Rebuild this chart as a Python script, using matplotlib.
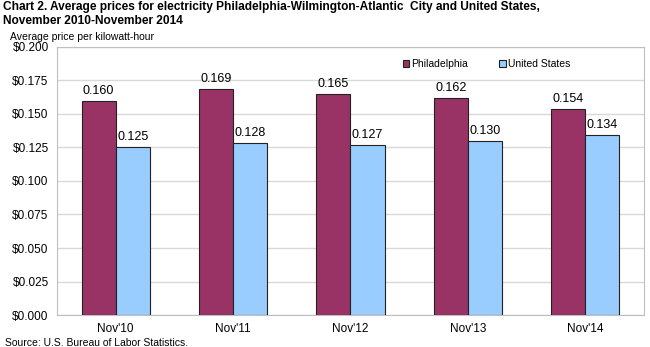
import matplotlib
matplotlib.use('Agg')
import matplotlib.pyplot as plt
import numpy as np

plt.rcParams['font.family'] = ['Liberation Sans', 'DejaVu Sans']

categories = ["Nov'10", "Nov'11", "Nov'12", "Nov'13", "Nov'14"]
philadelphia = [0.160, 0.169, 0.165, 0.162, 0.154]
united_states = [0.125, 0.128, 0.127, 0.130, 0.134]

phl_color = '#993366'
us_color = '#99ccff'
grid_color = '#d9d9d9'

fig = plt.figure(figsize=(6.5, 3.47), dpi=100)
ax = fig.add_axes([0.0877, 0.0922, 0.903, 0.7724])

x = np.arange(len(categories))
w = 0.29
b1 = ax.bar(x - w/2, philadelphia, w, color=phl_color, edgecolor='#222222',
            linewidth=0.8, label='Philadelphia', zorder=3)
b2 = ax.bar(x + w/2, united_states, w, color=us_color, edgecolor='#222222',
            linewidth=0.8, label='United States', zorder=3)

# value labels over each bar
for bars in (b1, b2):
    for r in bars:
        ax.text(r.get_x() + r.get_width()/2, r.get_height() + 0.003,
                f'{r.get_height():.3f}', ha='center', va='bottom', fontsize=9)

ax.set_xlim(-0.5, len(categories) - 0.5)
ax.set_ylim(0, 0.2)
yt = np.arange(0, 0.2001, 0.025)
ax.set_yticks(yt)
ax.set_yticklabels([f'${v:.3f}' for v in yt], fontsize=8.5)
ax.set_xticks(x)
ax.set_xticklabels(categories, fontsize=8.5)
ax.tick_params(length=0, pad=6)
ax.yaxis.grid(True, color=grid_color, linewidth=1, zorder=0)
for s in ax.spines.values():
    s.set_color('#bfbfbf')

ax.legend(loc='upper right', bbox_to_anchor=(0.89, 0.99), ncol=2, frameon=False,
          fontsize=7.5, handlelength=0.6, handleheight=0.6, handletextpad=0.2,
          columnspacing=3.0)

fig.text(0.005, 0.997, 'Chart 2. Average prices for electricity Philadelphia-Wilmington-Atlantic  City and United States,\nNovember 2010-November 2014',
         ha='left', va='top', fontsize=8.6, fontweight='bold', linespacing=1.2)
fig.text(0.015, 0.893, 'Average price per kilowatt-hour', ha='left', va='center', fontsize=7.5)
fig.text(0.008, 0.012, 'Source: U.S. Bureau of Labor Statistics.', ha='left', va='center', fontsize=7.5)

fig.savefig('out.png', dpi=100)
